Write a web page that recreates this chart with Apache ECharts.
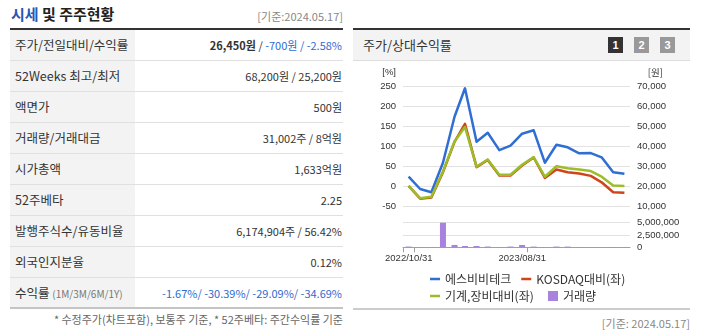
<!DOCTYPE html>
<html><head><meta charset="utf-8">
<script src="https://cdn.jsdelivr.net/npm/echarts@6/dist/echarts.min.js"></script>
<style>
html,body{margin:0;padding:0;background:#fff;}
body{width:701px;height:333px;position:relative;overflow:hidden;font-family:"Noto Sans CJK KR","Noto Sans",sans-serif;color:#333;}
.abs{position:absolute;}
#title{left:11px;top:4px;font-size:15px;font-weight:bold;line-height:20px;color:#222;}
#title .bl{color:#2557b8;}
.date{font-size:11px;color:#888;line-height:14px;}
#tbl{left:10px;top:28px;width:333px;border-top:2px solid #333;}
.row{display:flex;height:31px;box-sizing:border-box;border-bottom:1px solid #e0e0e0;}
.row.last{border-bottom:2px solid #c4c4c4;}
.lab{width:125px;background:#f3f3f3;padding-left:5px;box-sizing:border-box;font-size:12.5px;line-height:30px;color:#333;white-space:nowrap;}
.val{flex:1;text-align:right;font-size:11px;line-height:30px;padding-right:1px;color:#333;white-space:nowrap;}
.neg{color:#2d6bd0;}
.small{font-size:10px;color:#777;}
#foot{right:358px;top:312px;font-size:11px;color:#666;line-height:14px;white-space:nowrap;}
#rtop{left:353px;top:28px;width:337px;height:2px;background:#333;}
#rhead{left:353px;top:30px;width:337px;height:30px;background:#f3f3f3;border-bottom:1px solid #ddd;}
#rhead .t{position:absolute;left:10px;top:0;line-height:30px;font-size:13px;color:#333;}
.btn{position:absolute;top:7px;width:15px;height:16px;color:#fff;font-size:11px;font-weight:bold;text-align:center;line-height:16px;font-family:"Liberation Sans",sans-serif;}
#chart{left:353px;top:61px;width:337px;height:246px;}
#rbot{left:353px;top:308px;width:337px;height:2px;background:#ccc;}
#rdate{right:11px;top:316px;}
</style></head>
<body>
<div id="title" class="abs"><span class="bl">시세</span> 및 주주현황</div>
<div class="abs date" style="right:358px;top:9px;">[기준:2024.05.17]</div>
<div id="tbl" class="abs">
  <div class="row"><div class="lab">주가/전일대비/수익률</div><div class="val"><b>26,450원</b> / <span class="neg">-700원 / -2.58%</span></div></div>
  <div class="row"><div class="lab">52Weeks 최고/최저</div><div class="val">68,200원 / 25,200원</div></div>
  <div class="row"><div class="lab">액면가</div><div class="val">500원</div></div>
  <div class="row"><div class="lab">거래량/거래대금</div><div class="val">31,002주 / 8억원</div></div>
  <div class="row"><div class="lab">시가총액</div><div class="val">1,633억원</div></div>
  <div class="row"><div class="lab">52주베타</div><div class="val">2.25</div></div>
  <div class="row"><div class="lab">발행주식수/유동비율</div><div class="val">6,174,904주 / 56.42%</div></div>
  <div class="row"><div class="lab">외국인지분율</div><div class="val">0.12%</div></div>
  <div class="row last"><div class="lab">수익률 <span class="small">(1M/3M/6M/1Y)</span></div><div class="val neg">-1.67%/ -30.39%/ -29.09%/ -34.69%</div></div>
</div>
<div id="foot" class="abs">* 수정주가(차트포함), 보통주 기준, * 52주베타: 주간수익률 기준</div>

<div id="rtop" class="abs"></div>
<div id="rhead" class="abs"><div class="t">주가/상대수익률</div>
  <div class="btn" style="left:255px;background:#333;">1</div>
  <div class="btn" style="left:281px;background:#999;">2</div>
  <div class="btn" style="left:307px;background:#999;">3</div>
</div>
<div id="chart" class="abs"></div>
<div id="rbot" class="abs"></div>
<div id="rdate" class="abs date">[기준: 2024.05.17]</div>

<script>
// ---- data ----
const dates = ['2022-10-17','2022-11-17','2022-12-17','2023-01-17','2023-02-17','2023-03-17','2023-04-17','2023-05-17','2023-06-17','2023-07-17','2023-08-17','2023-09-17','2023-10-17','2023-11-17','2023-12-17','2024-01-17','2024-02-17','2024-03-17','2024-04-17','2024-05-17'];
const price = [25000,18850,17200,32000,55000,69200,42500,47000,38300,40500,46500,48200,32000,41000,39700,36700,36800,34700,27200,26450];
const kosdaqRel = [2,-30,-27,36,112,157,49,67,28,28,53,73,22,43,36,33,27,11,-14,-15];
const machineryRel = [2,-29,-25,38,113,149,50,68,30,30,55,74,25,51,46,43,39,25,3,2];
const volume = [150000,30000,20000,5000000,480000,270000,270000,150000,30000,150000,470000,140000,30000,150000,140000,30000,20000,30000,30000,30000];
const xTickLabels = ['2022/10/31','2023/08/31'];
const names = ['에스비비테크','KOSDAQ대비(좌)','기계,장비대비(좌)','거래량'];

const ts = s => { const p = s.split(/[-\/]/).map(Number); return Date.UTC(p[0], p[1]-1, p[2]); };
const DAY = 864e5;
const xMin = ts(dates[0]) - 15*DAY;
const xMax = ts(dates[dates.length-1]) + 15*DAY;
const tickTs = xTickLabels.map(ts);
const pair = arr => dates.map((d,i)=>[ts(d), arr[i]]);

const FONT = '"Liberation Sans", "Noto Sans CJK KR", sans-serif';
const KFONT = '"Noto Sans CJK KR", sans-serif';
const lab = {fontSize:9.5, color:'#333', fontFamily:FONT};
const grid = '#e2e2e2';

const chart = echarts.init(document.getElementById('chart'), null, {renderer:'canvas'});
chart.setOption({
  animation:false,
  textStyle:{fontFamily:KFONT},
  grid:[
    {left:50, right:60, top:25.7, height:120},
    {left:50, right:60, top:161.7, height:24.6}
  ],
  xAxis:[
    {type:'value', gridIndex:0, min:xMin, max:xMax, show:false, splitLine:{show:false}},
    {type:'value', gridIndex:1, min:xMin, max:xMax,
      axisLine:{show:true, lineStyle:{color:'#a0a0a0', width:1}},
      axisTick:{show:true, customValues:[xMin].concat(tickTs), length:5, lineStyle:{color:'#a0a0a0'}},
      axisLabel:Object.assign({}, lab, {customValues:tickTs, margin:6, padding:[0,10,0,0],
        formatter:v=>{ const i = tickTs.indexOf(v); return i>=0 ? xTickLabels[i] : ''; }}),
      splitLine:{show:false}
    }
  ],
  yAxis:[
    {type:'value', gridIndex:0, position:'left', min:-50, max:250, interval:50,
      axisLine:{show:false}, axisTick:{show:false}, axisLabel:Object.assign({}, lab, {margin:7}),
      splitLine:{show:true, lineStyle:{color:grid}}},
    {type:'value', gridIndex:0, position:'right', min:10000, max:70000, interval:10000,
      axisLine:{show:false}, axisTick:{show:false}, axisLabel:Object.assign({}, lab, {margin:7}),
      splitLine:{show:false}},
    {type:'value', gridIndex:1, position:'right', min:0, max:5000000, interval:2500000,
      axisLine:{show:false}, axisTick:{show:false}, axisLabel:Object.assign({}, lab, {margin:7}),
      splitLine:{show:true, lineStyle:{color:grid}}}
  ],
  graphic:[
    {type:'text', x:43, y:11, style:{text:'[%]', align:'right', verticalAlign:'middle', fontSize:9.5, fill:'#333', fontFamily:FONT}},
    {type:'text', x:310, y:11, style:{text:'[원]', align:'right', verticalAlign:'middle', fontSize:9.5, fill:'#333', fontFamily:KFONT}}
  ],
  legend:[
    {data:[names[0],names[1]], left:72, top:207, itemWidth:10, itemHeight:2.5, itemGap:10, icon:'rect',
      textStyle:{fontSize:12, color:'#333', fontFamily:KFONT}, itemStyle:{borderWidth:0}},
    {data:[names[2]], left:72, top:224, itemWidth:10, itemHeight:2.5, icon:'rect',
      textStyle:{fontSize:12, color:'#333', fontFamily:KFONT}, itemStyle:{borderWidth:0}},
    {data:[names[3]], left:190, top:224, itemWidth:10, itemHeight:10, icon:'rect',
      textStyle:{fontSize:12, color:'#333', fontFamily:KFONT}, itemStyle:{borderWidth:0}}
  ],
  series:[
    {name:names[0], type:'line', xAxisIndex:0, yAxisIndex:1, data:pair(price), showSymbol:false,
      color:'#2f6fd3', lineStyle:{width:2.5, color:'#2f6fd3', join:'round'}},
    {name:names[1], type:'line', xAxisIndex:0, yAxisIndex:0, data:pair(kosdaqRel), showSymbol:false,
      color:'#cf4519', lineStyle:{width:2.5, color:'#cf4519', join:'round'}},
    {name:names[2], type:'line', xAxisIndex:0, yAxisIndex:0, data:pair(machineryRel), showSymbol:false,
      color:'#9cbd29', lineStyle:{width:2.5, color:'#9cbd29', join:'round'}},
    {name:names[3], type:'bar', xAxisIndex:1, yAxisIndex:2, data:pair(volume), barWidth:6,
      color:'#a882dc', itemStyle:{color:'#a882dc'}}
  ]
});
</script>
</body></html>
